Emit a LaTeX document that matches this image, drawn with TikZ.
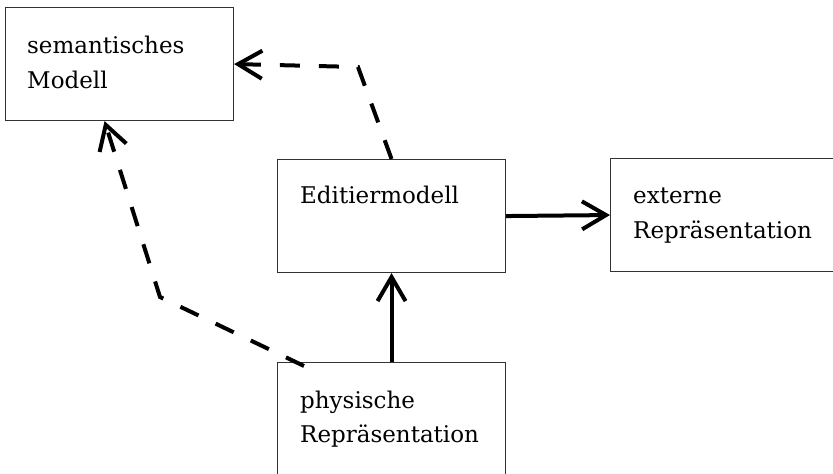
\documentclass[tikz,border=0pt]{standalone}
\usepackage{fontspec}
\setmainfont{DejaVu Serif}
\usetikzlibrary{arrows.meta}
\begin{document}
\begin{tikzpicture}[x=1pt,y=-1pt,
  box/.style={draw=black!80,line width=1.1pt,minimum width=228pt,minimum height=113pt,inner sep=0pt,anchor=north west},
  lbl/.style={anchor=base west,inner sep=0pt,font=\fontsize{23}{35}\selectfont},
  solidarrow/.style={line width=4pt,-{Straight Barb[length=24pt,width=28pt,line width=4pt]}},
  dasharrow/.style={line width=4pt,dash pattern=on 20pt off 19pt,-{Straight Barb[length=24pt,width=28pt,line width=4pt]}}]
\useasboundingbox (0,0) rectangle (833,474);
\clip (0,0) rectangle (833,474);
\node[box] (A) at (5,7) {};
\node[box] (E) at (277,159) {};
\node[box] (X) at (610,158) {};
\node[box] (P) at (277,362) {};
\node[lbl] (a1) at (27,53) {semantisches};
\node[lbl] (a2) at (27,88) {Modell};
\node[lbl] (e1) at (300,203) {Editiermodell};
\node[lbl] (x1) at (633,203) {externe};
\node[lbl] (x2) at (633,238) {Repräsentation};
\node[lbl] (p1) at (300,408) {physische};
\node[lbl] (p2) at (300,442) {Repräsentation};
\coordinate (c1) at (358,67);
\coordinate (c2) at (160,297);
\draw[solidarrow] (P.north) -- (E.south);
\draw[solidarrow] (E.east) -- (X.west);
\draw[dasharrow] (E.north) -- (c1) -- (A.east);
\draw[dasharrow] ([xshift=27pt,yshift=-4pt]P.north west) -- (c2) -- ([xshift=-15pt]A.south);
\end{tikzpicture}
\end{document}
